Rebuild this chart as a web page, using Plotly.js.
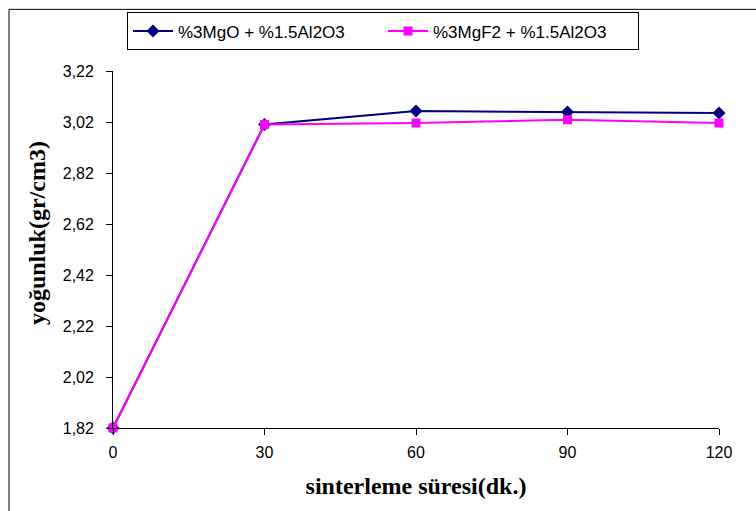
<!DOCTYPE html>
<html>
<head>
<meta charset="utf-8">
<script src="https://cdn.plot.ly/plotly-3.0.1.min.js"></script>
<style>html,body{margin:0;padding:0;background:#fff;}#chart{width:756px;height:511px;}</style>
</head>
<body>
<div id="chart"></div>
<script>
const xValues = [0, 30, 60, 90, 120];
const mgoSeries = [1.82, 3.01, 3.063, 3.059, 3.055];
const mgf2Series = [1.82, 3.01, 3.016, 3.029, 3.016];
const seriesNames = ["%3MgO + %1.5Al2O3", "%3MgF2 + %1.5Al2O3"];
const xTicks = [0, 30, 60, 90, 120];
const yTicks = [1.82, 2.02, 2.22, 2.42, 2.62, 2.82, 3.02, 3.22];
const xTitle = "sinterleme süresi(dk.)";
const yTitle = "yoğunluk(gr/cm3)";

const yTickText = yTicks.map(v => v.toFixed(2).replace('.', ',') + '\u00a0\u00a0\u200b');

const traces = [
  {x: xValues, y: mgoSeries, name: seriesNames[0], type: 'scatter', mode: 'lines+markers', cliponaxis: false,
   line: {color: '#000080', width: 2}, marker: {symbol: 'diamond', size: 10, color: '#000080'}},
  {x: xValues, y: mgf2Series, name: seriesNames[1], type: 'scatter', mode: 'lines+markers', cliponaxis: false,
   line: {color: '#FF00FF', width: 2}, marker: {symbol: 'square', size: 9, color: '#FF00FF'}}
];

const L = 113, R = 37, T = 69, B = 83;
const W = 756 - L - R, H = 511 - T - B;
const px = v => (v - L) / W;
const py = v => (511 - B - v) / H;
const titleFont = {family: 'Liberation Serif, Times New Roman, serif', size: 24, color: '#000', weight: 'bold'};
const tickFont = {family: 'Liberation Sans, Arial, sans-serif', size: 16, color: '#000'};

const layout = {
  width: 756, height: 511,
  margin: {l: L, r: R, t: T, b: B},
  paper_bgcolor: '#fff', plot_bgcolor: '#fff',
  font: {family: 'Liberation Sans, Arial, sans-serif', color: '#000'},
  showlegend: true,
  legend: {orientation: 'h', x: px(127), y: py(10), xanchor: 'left', yanchor: 'top',
    bordercolor: '#000', borderwidth: 1, bgcolor: '#fff',
    font: {family: 'Liberation Sans, Arial, sans-serif', size: 17, color: '#000'},
    entrywidth: 200, entrywidthmode: 'pixels', itemwidth: 40},
  xaxis: {range: [0, 120], tickvals: xTicks, showgrid: false, zeroline: false,
    showline: true, linecolor: '#000', linewidth: 1, ticks: 'outside', ticklen: 6, tickcolor: '#000',
    ticklabelstandoff: 4, tickfont: tickFont,
    title: {text: xTitle, standoff: 16, font: titleFont}},
  yaxis: {range: [1.82, 3.22], tickvals: yTicks, ticktext: yTickText, showgrid: false, zeroline: false,
    showline: true, linecolor: '#000', linewidth: 1, ticks: 'outside', ticklen: 6, tickcolor: '#000',
    tickfont: tickFont},
  annotations: [
    {text: yTitle, xref: 'paper', yref: 'paper', x: px(37), y: py(232), xanchor: 'center', yanchor: 'middle',
     textangle: -90, showarrow: false, font: titleFont}
  ],
  shapes: [
    {type: 'line', xref: 'paper', yref: 'paper', x0: px(9), x1: px(9), y0: py(7), y1: py(520), line: {color: '#000', width: 1}},
    {type: 'line', xref: 'paper', yref: 'paper', x0: px(9), x1: px(760), y0: py(7), y1: py(7), line: {color: '#000', width: 1}}
  ]
};

Plotly.newPlot('chart', traces, layout, {displayModeBar: false, staticPlot: true});
</script>
</body>
</html>
